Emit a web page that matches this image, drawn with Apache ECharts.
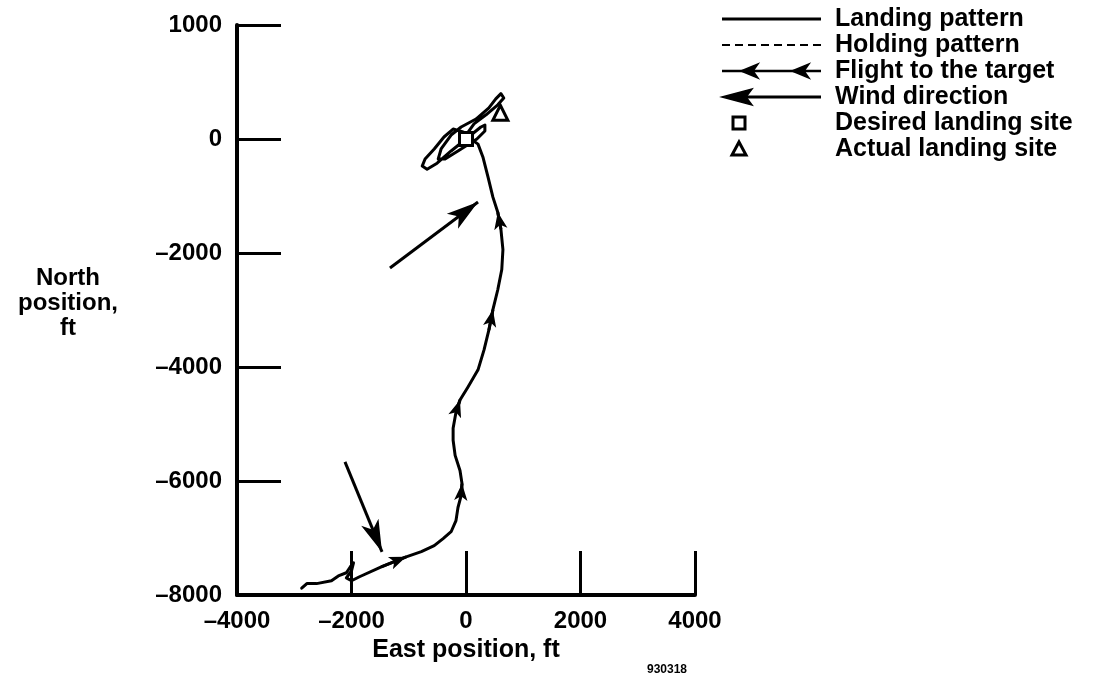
<!DOCTYPE html>
<html><head><meta charset="utf-8">
<script src="https://cdn.jsdelivr.net/npm/echarts@6/dist/echarts.min.js"></script>
<style>html,body{margin:0;padding:0;background:#fff}#c{width:1096px;height:677px}</style>
</head><body><div id="c"></div>
<script>
// Flight path (East, North) in ft
const pathEast = [-2870,-2780,-2610,-2350,-2230,-2090,-2020,-1965,-2000,-2090,-2000,-1860,-1480,-1045,-780,-555,-400,-260,-175,-140,-85,-70,-105,-190,-225,-225,-175,-105,35,210,315,400,470,555,625,645,610,555,470,385,295,210,85,-50,-225,-385,-555,-715,-765,-680,-505,-260,0,260,330,330,190,-85,-365,-485,-435,-260,-85,175,400,520,610,660,555,350,140,15];
const pathNorth = [-7880,-7800,-7800,-7750,-7665,-7610,-7505,-7435,-7575,-7700,-7750,-7680,-7505,-7330,-7240,-7135,-7010,-6890,-6695,-6465,-6255,-6045,-5815,-5550,-5285,-5075,-4795,-4580,-4350,-4050,-3700,-3350,-2995,-2645,-2290,-1940,-1585,-1285,-1020,-670,-315,-90,0,125,175,35,-175,-350,-475,-530,-425,-210,0,210,245,140,0,-175,-350,-350,-175,70,210,350,545,705,795,720,600,425,265,90];
// indices of path points where a flight-direction arrowhead sits
const flightArrowIdx = [13, 21, 27, 32, 37];
// wind direction arrows: [tailEast, tailNorth, tipEast, tipNorth]
const windArrows = [[-1328, -2263, 210, -1105], [-2114, -5665, -1467, -7244]];
const desiredSite = [0, 0];
const actualSite = [600, 460];
const xTicks = [-4000, -2000, 0, 2000, 4000];
const xTickLabels = ['\u20134000', '\u20132000', '0', '2000', '4000'];
const yTicks = [-8000, -6000, -4000, -2000, 0, 2000];
const yTickLabels = ['\u20138000', '\u20136000', '\u20134000', '\u20132000', '0', '1000'];
const legendLabels = ['Landing pattern', 'Holding pattern', 'Flight to the target', 'Wind direction', 'Desired landing site', 'Actual landing site'];

const FONT = '"Liberation Sans", Arial, Helvetica, sans-serif';
const pathData = pathEast.map((e, i) => [e, pathNorth[i]]);
const flightSegs = flightArrowIdx.map(i => ({ coords: [pathData[i - 1], pathData[i]] }));
const windSegs = windArrows.map(a => ({ coords: [[a[0], a[1]], [a[2], a[3]]] }));

// legend graphics
const rowY = [19, 45, 71, 97, 123, 149];
const LX1 = 722, LX2 = 821, MX = 739, TX = 835;
const g = [];
function arrowPoly(tx, y, len, half, notch) {
  return { type: 'polygon', shape: { points: [[tx, y], [tx + len, y - half], [tx + len - notch, y], [tx + len, y + half]] },
    style: { fill: '#000', stroke: '#000', lineWidth: 1.5 } };
}
g.push({ type: 'line', shape: { x1: LX1, y1: rowY[0], x2: LX2, y2: rowY[0] }, style: { stroke: '#000', lineWidth: 3 } });
g.push({ type: 'line', shape: { x1: LX1, y1: rowY[1], x2: LX2, y2: rowY[1] }, style: { stroke: '#000', lineWidth: 2, lineDash: [8, 5] } });
g.push({ type: 'line', shape: { x1: LX1, y1: rowY[2], x2: LX2, y2: rowY[2] }, style: { stroke: '#000', lineWidth: 2.5 } });
g.push(arrowPoly(741, rowY[2], 17, 7, 5));
g.push(arrowPoly(792, rowY[2], 17, 7, 5));
g.push({ type: 'line', shape: { x1: 745, y1: rowY[3], x2: LX2, y2: rowY[3] }, style: { stroke: '#000', lineWidth: 3 } });
g.push(arrowPoly(722, rowY[3], 30, 8, 6));
g.push({ type: 'rect', shape: { x: MX - 6, y: rowY[4] - 6, width: 12, height: 12 }, style: { fill: '#fff', stroke: '#000', lineWidth: 3 } });
g.push({ type: 'polygon', shape: { points: [[MX, rowY[5] - 7], [MX + 7, rowY[5] + 6], [MX - 7, rowY[5] + 6]] }, style: { fill: '#fff', stroke: '#000', lineWidth: 3 } });
legendLabels.forEach((t, i) => g.push({ type: 'text', x: TX, y: rowY[i], style: { text: t, fill: '#000', font: 'bold 25px ' + FONT, textVerticalAlign: 'middle', textAlign: 'left' } }));
g.push({ type: 'text', x: 68, y: 303, style: { text: 'North\nposition,\nft', fill: '#000', font: 'bold 24px ' + FONT, textAlign: 'center', textVerticalAlign: 'middle', lineHeight: 25 } });
g.push({ type: 'text', x: 667, y: 670, style: { text: '930318', fill: '#000', font: 'bold 12px ' + FONT, textAlign: 'center', textVerticalAlign: 'middle' } });

const chart = echarts.init(document.getElementById('c'), null, { renderer: 'canvas' });
chart.setOption({
  animation: false,
  backgroundColor: '#fff',
  grid: { left: 237, right: 401, top: 25, bottom: 82, containLabel: false },
  xAxis: {
    type: 'value', min: -4000, max: 4000, interval: 2000,
    axisLine: { onZero: false, lineStyle: { color: '#000', width: 4 } },
    axisTick: { inside: true, length: 44, lineStyle: { color: '#000', width: 3 } },
    splitLine: { show: false },
    axisLabel: { color: '#000', fontSize: 24, fontWeight: 'bold', fontFamily: FONT, margin: 14,
      formatter: v => xTickLabels[xTicks.indexOf(v)] },
    name: 'East position, ft', nameLocation: 'middle', nameGap: 41,
    nameTextStyle: { color: '#000', fontSize: 25, fontWeight: 'bold', fontFamily: FONT }
  },
  yAxis: {
    type: 'value', min: -8000, max: 2000, interval: 2000,
    axisLine: { onZero: false, lineStyle: { color: '#000', width: 4 } },
    axisTick: { inside: true, length: 44, lineStyle: { color: '#000', width: 3 } },
    splitLine: { show: false },
    axisLabel: { color: '#000', fontSize: 24, fontWeight: 'bold', fontFamily: FONT, margin: 15,
      formatter: v => yTickLabels[yTicks.indexOf(v)] }
  },
  graphic: g,
  series: [
    { type: 'line', name: 'Landing pattern', data: pathData, showSymbol: false, symbol: 'none', smooth: false,
      lineStyle: { color: '#000', width: 3, join: 'round', cap: 'round' }, z: 3 },
    { type: 'lines', name: 'Flight to the target', coordinateSystem: 'cartesian2d', data: flightSegs,
      symbol: ['none', 'arrow'], symbolSize: [0, [10, 17]],
      lineStyle: { color: '#000', width: 3, opacity: 1 }, z: 4 },
    { type: 'lines', name: 'Wind direction', coordinateSystem: 'cartesian2d', data: windSegs,
      symbol: ['none', 'arrow'], symbolSize: [0, [14, 32]],
      lineStyle: { color: '#000', width: 3, opacity: 1 }, z: 4 },
    { type: 'scatter', name: 'Desired landing site', data: [desiredSite], symbol: 'rect', symbolSize: 13,
      itemStyle: { color: '#fff', borderColor: '#000', borderWidth: 3, opacity: 1 }, z: 5 },
    { type: 'scatter', name: 'Actual landing site', data: [actualSite], symbol: 'triangle', symbolSize: 15,
      itemStyle: { color: '#fff', borderColor: '#000', borderWidth: 3, opacity: 1 }, z: 5 }
  ]
});
</script></body></html>
